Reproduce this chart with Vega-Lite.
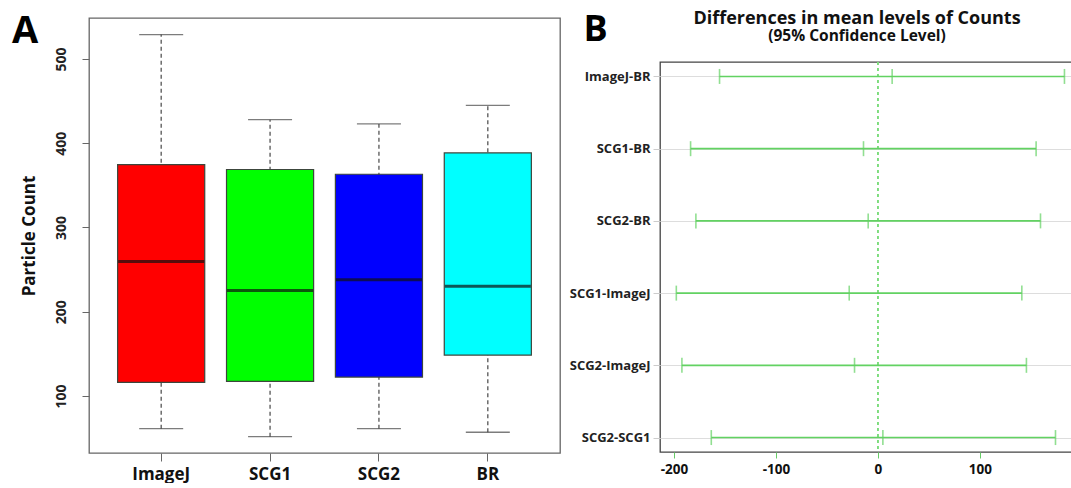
{
  "$schema": "https://vega.github.io/schema/vega-lite/v6.json",
  "padding": {"left": 10, "top": 9, "right": 0, "bottom": 0},
  "spacing": 7,
  "background": "white",
  "config": {
    "font": "Open Sans",
    "axis": {"labelFont": "Open Sans", "titleFont": "Open Sans", "labelFontWeight": "bold", "titleFontWeight": "bold"},
    "title": {"font": "Open Sans", "subtitleFont": "Open Sans"}
  },
  "hconcat": [
    {
      "width": 471,
      "height": 435,
      "view": {"stroke": "#666", "strokeWidth": 1.3},
      "data": {
        "values": [
          {"group": "ImageJ", "lower": 61.3, "q1": 116.2, "median": 259.7, "q3": 374.7, "upper": 528.9},
          {"group": "SCG1", "lower": 51.8, "q1": 117.4, "median": 225.3, "q3": 368.8, "upper": 428.0},
          {"group": "SCG2", "lower": 61.3, "q1": 122.5, "median": 237.9, "q3": 363.2, "upper": 422.9},
          {"group": "BR", "lower": 57.0, "q1": 148.6, "median": 230.4, "q3": 388.5, "upper": 445.0}
        ]
      },
      "encoding": {
        "x": {
          "field": "group",
          "type": "nominal",
          "sort": ["ImageJ", "SCG1", "SCG2", "BR"],
          "scale": {"paddingInner": 0.2, "paddingOuter": 0.263},
          "axis": {
            "labelAngle": 0,
            "labelFontSize": 17,
            "labelColor": "#111",
            "tickColor": "#666",
            "tickSize": 8,
            "labelPadding": 5,
            "domain": false,
            "title": "A",
            "titleX": -77.5,
            "titleY": -411,
            "titleAlign": "left",
            "titleBaseline": "alphabetic",
            "titleAngle": 0,
            "titleFontSize": 38,
            "titleColor": "#000"
          }
        }
      },
      "layer": [
        {
          "mark": {"type": "rule", "color": "#555", "strokeDash": [4, 3], "strokeWidth": 1.3},
          "encoding": {
            "y": {
              "field": "lower",
              "type": "quantitative",
              "scale": {"domain": [32.4, 548.6], "nice": false, "zero": false},
              "axis": {
                "values": [100, 200, 300, 400, 500],
                "labelAngle": -90,
                "labelFontSize": 14,
                "labelColor": "#222",
                "tickColor": "#666",
                "tickSize": 7,
                "labelPadding": 14,
                "domain": false,
                "grid": false,
                "title": "Particle Count",
                "titleFontSize": 17,
                "titleColor": "#111",
                "titlePadding": 16
              }
            },
            "y2": {"field": "upper"}
          }
        },
        {
          "mark": {"type": "tick", "color": "#444", "size": 44, "thickness": 1.3},
          "encoding": {"y": {"field": "upper", "type": "quantitative"}}
        },
        {
          "mark": {"type": "tick", "color": "#444", "size": 44, "thickness": 1.3},
          "encoding": {"y": {"field": "lower", "type": "quantitative"}}
        },
        {
          "mark": {"type": "bar", "stroke": "#3c463c", "strokeWidth": 1.2, "opacity": 1},
          "encoding": {
            "y": {"field": "q1", "type": "quantitative"},
            "y2": {"field": "q3"},
            "color": {
              "field": "group",
              "type": "nominal",
              "scale": {"domain": ["ImageJ", "SCG1", "SCG2", "BR"], "range": ["#ff0000", "#00ff00", "#0000ff", "#00ffff"]},
              "legend": null
            }
          }
        },
        {
          "mark": {"type": "tick", "color": "#111", "size": 86, "thickness": 3},
          "encoding": {"y": {"field": "median", "type": "quantitative"}}
        }
      ]
    },
    {
      "spacing": 13,
      "vconcat": [
        {
          "width": 412,
          "height": 1,
          "view": {"stroke": null},
          "title": {
            "text": "Differences in mean levels of Counts",
            "subtitle": "(95% Confidence Level)",
            "anchor": "middle",
            "dx": -9,
            "fontSize": 18,
            "fontWeight": "bold",
            "color": "#111",
            "subtitleFontSize": 15.5,
            "subtitleFontWeight": "bold",
            "subtitleColor": "#111",
            "subtitlePadding": 1,
            "offset": -33
          },
          "data": {"values": [{"panel": "B"}]},
          "mark": {"type": "rule", "opacity": 0},
          "encoding": {
            "y": {
              "field": "panel",
              "type": "nominal",
              "axis": {
                "labels": false,
                "ticks": false,
                "domain": false,
                "grid": false,
                "title": "B",
                "titleX": -77,
                "titleY": 22,
                "titleAlign": "left",
                "titleBaseline": "alphabetic",
                "titleAngle": 0,
                "titleFontSize": 36,
                "titleColor": "#000"
              }
            }
          }
        },
        {
          "width": 412,
          "height": 390,
          "view": {"stroke": "#444", "strokeWidth": 1.3},
          "data": {
            "values": [
              {"pair": "ImageJ-BR", "lwr": -155.3, "diff": 14.0, "upr": 183.0},
              {"pair": "SCG1-BR", "lwr": -183.7, "diff": -14.1, "upr": 155.2},
              {"pair": "SCG2-BR", "lwr": -178.5, "diff": -9.5, "upr": 159.5},
              {"pair": "SCG1-ImageJ", "lwr": -197.7, "diff": -28.1, "upr": 141.2},
              {"pair": "SCG2-ImageJ", "lwr": -192.2, "diff": -22.9, "upr": 145.7},
              {"pair": "SCG2-SCG1", "lwr": -163.4, "diff": 4.9, "upr": 174.2}
            ]
          },
          "layer": [
            {
              "mark": {"type": "rule", "color": "#7ddc7d", "strokeDash": [3, 3], "strokeWidth": 1},
              "encoding": {
                "x": {
                  "datum": 0,
                  "type": "quantitative",
                  "scale": {"domain": [-213.7, 190.4], "nice": false, "zero": false},
                  "axis": {
                    "values": [-200, -100, 0, 100],
                    "labelExpr": "'' + datum.value",
                    "labelFontSize": 13.5,
                    "labelColor": "#111",
                    "tickColor": "#66cc66",
                    "tickSize": 6,
                    "labelPadding": 4,
                    "domain": false,
                    "grid": false,
                    "title": null
                  }
                }
              }
            },
            {
              "mark": {"type": "rule", "color": "#62d262", "strokeWidth": 1.6},
              "encoding": {
                "y": {
                  "field": "pair",
                  "type": "nominal",
                  "sort": null,
                  "scale": {"type": "point", "padding": 0.2},
                  "axis": {
                    "labelFontSize": 13,
                    "labelColor": "#222",
                    "tickColor": "#cccccc",
                    "tickSize": 7,
                    "labelPadding": 3,
                    "domain": false,
                    "grid": true,
                    "gridColor": "#dddddd",
                    "title": null
                  }
                },
                "x": {"field": "lwr", "type": "quantitative"},
                "x2": {"field": "upr"}
              }
            },
            {
              "mark": {"type": "tick", "color": "#62d262", "size": 15, "thickness": 1.6},
              "encoding": {"y": {"field": "pair", "type": "nominal", "sort": null}, "x": {"field": "lwr", "type": "quantitative"}}
            },
            {
              "mark": {"type": "tick", "color": "#62d262", "size": 15, "thickness": 1.6},
              "encoding": {"y": {"field": "pair", "type": "nominal", "sort": null}, "x": {"field": "diff", "type": "quantitative"}}
            },
            {
              "mark": {"type": "tick", "color": "#62d262", "size": 15, "thickness": 1.6},
              "encoding": {"y": {"field": "pair", "type": "nominal", "sort": null}, "x": {"field": "upr", "type": "quantitative"}}
            }
          ]
        }
      ]
    }
  ]
}
